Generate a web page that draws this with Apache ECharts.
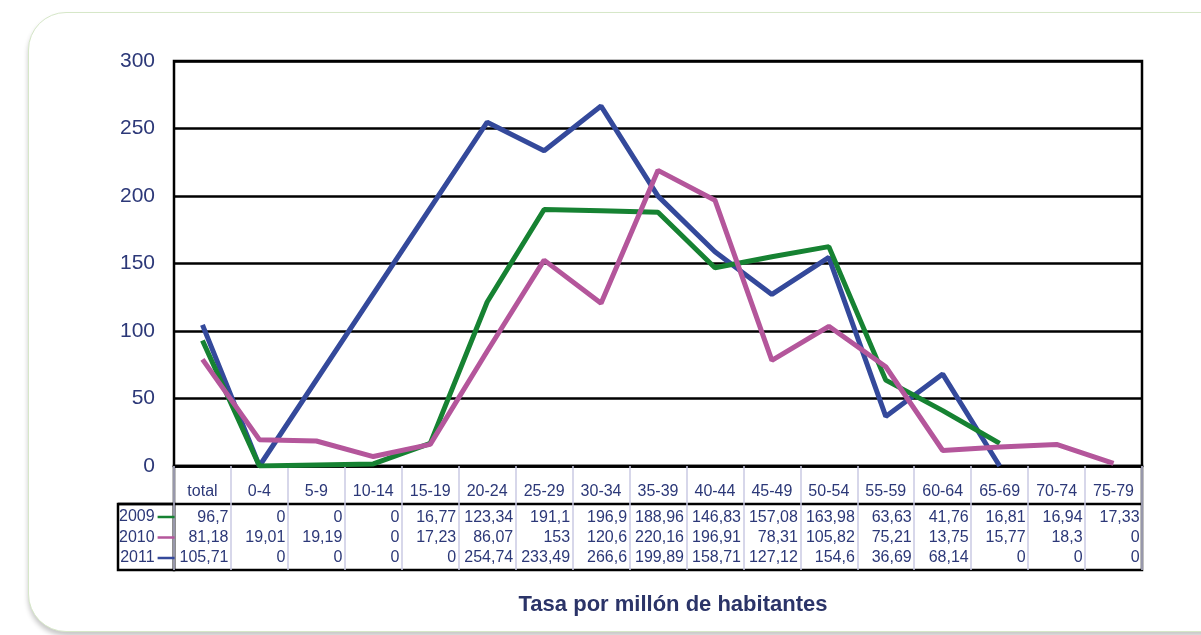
<!DOCTYPE html>
<html>
<head>
<meta charset="utf-8">
<script src="https://cdn.jsdelivr.net/npm/echarts@6/dist/echarts.min.js"></script>
<style>
  html, body { margin: 0; padding: 0; background: #fff; }
  #card {
    position: absolute; left: 28px; top: 12px; width: 1220px; height: 618px;
    border: 1.5px solid #d6e7c8; border-radius: 38px; background: #fff;
    box-shadow: 0 4px 5px rgba(0,0,0,0.22);
  }
  #main { position: absolute; left: 0; top: 0; width: 1201px; height: 635px; }
</style>
</head>
<body>
<div id="card"></div>
<div id="main"></div>
<script>
var categories = ['total', '0-4', '5-9', '10-14', '15-19', '20-24', '25-29', '30-34', '35-39',
    '40-44', '45-49', '50-54', '55-59', '60-64', '65-69', '70-74', '75-79'];

// values as plotted by the lines
var line2009 = [93, 0, 0.8, 1.5, 16.8, 121.5, 190, 189, 188, 146.8, 155, 162.5, 63.6, 41, 16.8, null, null];
var line2010 = [79, 19.5, 18.5, 7, 16, 85, 152.5, 120.6, 219, 196.9, 78.3, 103.5, 73.5, 11.5, 14, 16, 2];
var line2011 = [104.5, 0, null, null, null, 254.7, 233.5, 266.6, 199.9, 158.7, 127.1, 154.6, 36.7, 68.1, 0, null, null];

// values printed in the data table
var table2009 = ['96,7', '0', '0', '0', '16,77', '123,34', '191,1', '196,9', '188,96', '146,83', '157,08',
    '163,98', '63,63', '41,76', '16,81', '16,94', '17,33'];
var table2010 = ['81,18', '19,01', '19,19', '0', '17,23', '86,07', '153', '120,6', '220,16', '196,91', '78,31',
    '105,82', '75,21', '13,75', '15,77', '18,3', '0'];
var table2011 = ['105,71', '0', '0', '0', '0', '254,74', '233,49', '266,6', '199,89', '158,71', '127,12',
    '154,6', '36,69', '68,14', '0', '0', '0'];

var yTicks = [0, 300, 50];

var navy = '#2c3878';
var sans = '"Liberation Sans", Arial, sans-serif';

function rowAxis(rows, margin) {
    return {
        type: 'category',
        gridIndex: 0,
        position: 'bottom',
        data: categories,
        axisLine: { show: false },
        axisTick: { show: false },
        splitLine: { show: false },
        axisLabel: {
            interval: 0,
            margin: margin,
            hideOverlap: false,
            formatter: function (v, i) { return '{a|' + rows[i] + '}'; },
            rich: {
                a: { width: 52, align: 'right', fontFamily: sans, fontSize: 16, color: navy }
            }
        }
    };
}

var myChart = echarts.init(document.getElementById('main'));
var option = {
    backgroundColor: 'transparent',
    animation: false,
    title: {
        text: 'Tasa por millón de habitantes',
        left: 668,
        textAlign: 'center',
        top: 589,
        textStyle: { fontFamily: sans, fontSize: 22, fontWeight: 'bold', color: '#2b3468' }
    },
    legend: {
        orient: 'vertical',
        left: 119,
        top: 509,
        padding: 0,
        align: 'right',
        icon: 'rect',
        itemWidth: 17,
        itemHeight: 2.5,
        itemGap: 4.5,
        selectedMode: false,
        data: ['2009', '2010', '2011'],
        textStyle: { fontFamily: sans, fontSize: 16, color: navy, padding: [0, -2, 0, 0] }
    },
    grid: {
        left: 174,
        right: 59,
        top: 61,
        bottom: 169,
        show: true,
        borderColor: '#000',
        borderWidth: 2.5
    },
    xAxis: [{
        type: 'category',
        data: categories,
        boundaryGap: true,
        axisLine: { lineStyle: { color: '#000', width: 2.5 } },
        axisTick: { show: true, length: 104, interval: 0, lineStyle: { color: '#cacae4', width: 1.5 } },
        axisLabel: { interval: 0, margin: 18, fontFamily: sans, fontSize: 16, color: navy }
    },
        rowAxis(table2009, 44),
        rowAxis(table2010, 64),
        rowAxis(table2011, 84)
    ],
    yAxis: {
        type: 'value',
        min: yTicks[0],
        max: yTicks[1],
        interval: yTicks[2],
        axisLine: { show: false },
        axisTick: { show: false },
        splitLine: { lineStyle: { color: '#000', width: 2.5 } },
        axisLabel: { margin: 19, fontFamily: sans, fontSize: 21, color: navy }
    },
    graphic: [
        { type: 'rect', shape: { x: 174, y: 466, width: 968, height: 104 }, style: { fill: 'none', stroke: '#000', lineWidth: 2.5 } },
        { type: 'rect', shape: { x: 118, y: 504, width: 56, height: 66 }, style: { fill: 'none', stroke: '#000', lineWidth: 2.5 } },
        { type: 'line', shape: { x1: 118, y1: 504, x2: 1142, y2: 504 }, style: { stroke: '#000', lineWidth: 2.5 } }
    ],
    series: [{
        name: '2011',
        type: 'line',
        symbol: 'none',
        connectNulls: true,
        lineStyle: { color: '#34499b', width: 5 },
        itemStyle: { color: '#34499b' },
        data: line2011
    }, {
        name: '2009',
        type: 'line',
        symbol: 'none',
        lineStyle: { color: '#168232', width: 5 },
        itemStyle: { color: '#168232' },
        data: line2009
    }, {
        name: '2010',
        type: 'line',
        symbol: 'none',
        lineStyle: { color: '#b4569b', width: 5 },
        itemStyle: { color: '#b4569b' },
        data: line2010
    }]
};
myChart.setOption(option);
</script>
</body>
</html>
